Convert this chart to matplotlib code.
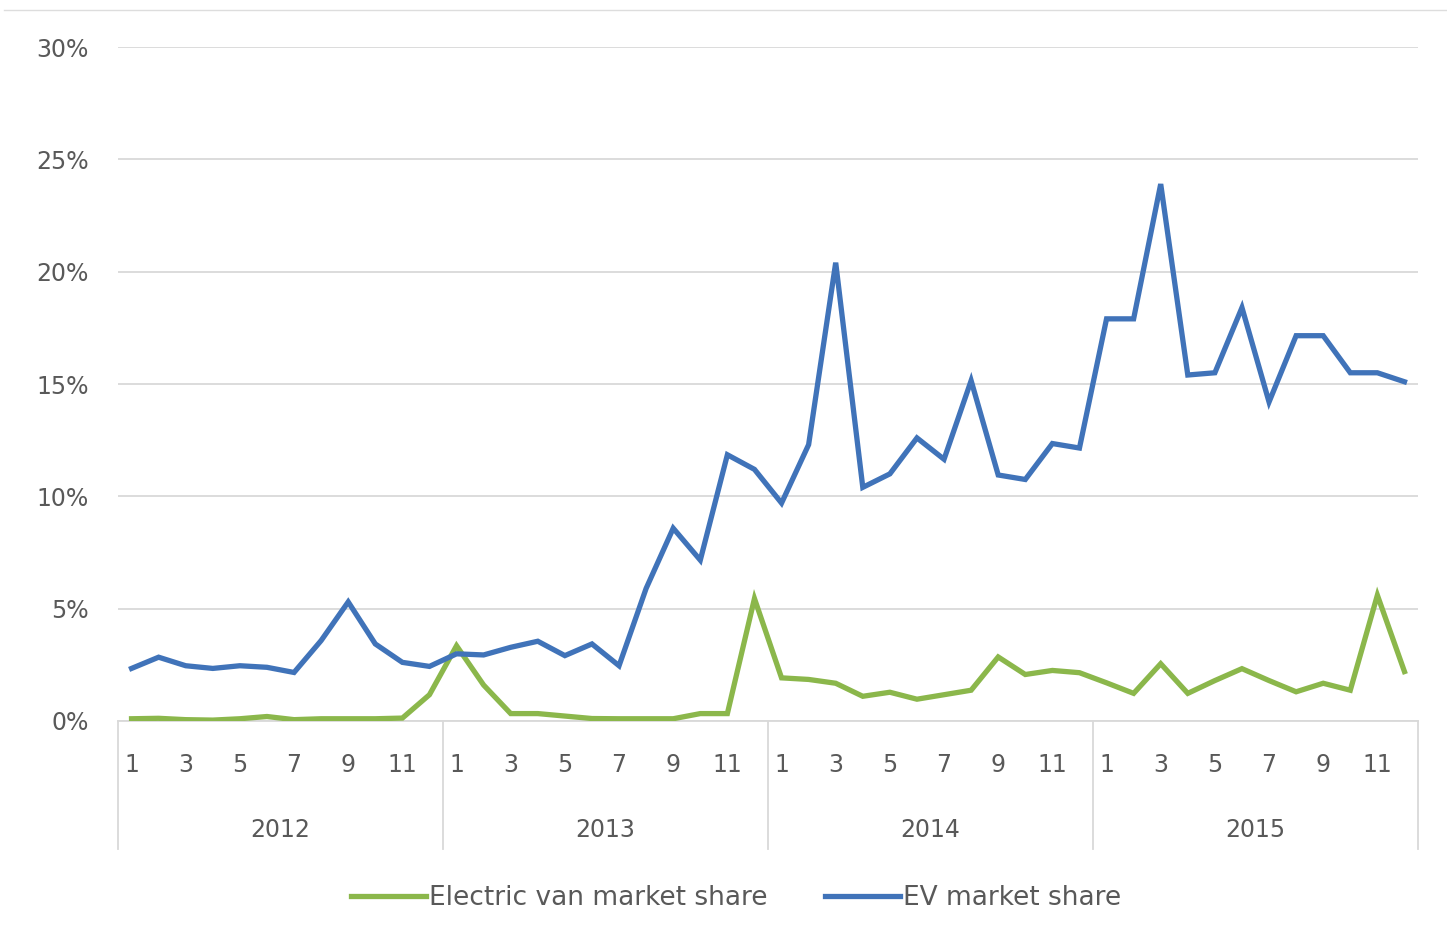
import matplotlib
matplotlib.use("Agg")
import matplotlib.pyplot as plt
from matplotlib.lines import Line2D
from matplotlib.ticker import FuncFormatter
import matplotlib.transforms as mtransforms

plt.rcParams['font.family'] = ['DejaVu Sans']

years = ['2012', '2013', '2014', '2015']
months = list(range(1, 13))

# Monthly market share in percent, Jan 2012 - Dec 2015
ev_share = [
    2.34, 2.84, 2.46, 2.34, 2.46, 2.39, 2.16, 3.58, 5.30, 3.43, 2.61, 2.43,
    2.99, 2.94, 3.28, 3.55, 2.91, 3.43, 2.46, 5.90, 8.58, 7.16, 11.85, 11.20,
    9.70, 12.30, 20.40, 10.40, 11.00, 12.60, 11.65, 15.15, 10.95, 10.75, 12.35, 12.15,
    17.90, 17.90, 23.90, 15.40, 15.50, 18.40, 14.20, 17.15, 17.15, 15.50, 15.50, 15.10,
]
van_share = [
    0.10, 0.12, 0.06, 0.04, 0.10, 0.20, 0.06, 0.10, 0.10, 0.10, 0.13, 1.17,
    3.35, 1.60, 0.33, 0.33, 0.22, 0.11, 0.10, 0.10, 0.10, 0.33, 0.33, 5.45,
    1.92, 1.85, 1.68, 1.10, 1.28, 0.97, 1.17, 1.37, 2.85, 2.07, 2.25, 2.15,
    1.70, 1.23, 2.55, 1.23, 1.80, 2.33, 1.80, 1.30, 1.68, 1.37, 5.60, 2.20,
]

BLUE = '#4073B9'
GREEN = '#8BB74B'
TEXT = '#595959'
GRID = '#D9D9D9'

W, H = 1447, 946
fig = plt.figure(figsize=(W / 100, H / 100), dpi=100)
ax = fig.add_axes([118 / W, 1 - 721 / H, 1300 / W, 674 / H])

x = list(range(len(ev_share)))
ax.plot(x, van_share, color=GREEN, lw=3.8, solid_joinstyle='miter',
        label='Electric van market share', zorder=3)
ax.plot(x, ev_share, color=BLUE, lw=3.8, solid_joinstyle='miter',
        label='EV market share', zorder=4)

ax.set_xlim(-0.5, len(x) - 0.5)
ax.set_ylim(0, 30)
ax.set_yticks(range(0, 31, 5))
ax.yaxis.set_major_formatter(FuncFormatter(lambda v, p: f'{int(v)}%'))
ax.grid(axis='y', color=GRID, lw=1.3)
ax.set_axisbelow(True)

for side in ['top', 'right', 'left']:
    ax.spines[side].set_visible(False)
ax.spines['bottom'].set_color(GRID)
ax.spines['bottom'].set_linewidth(1.3)

# odd month labels within each year
tick_pos = [i for i in x if months[i % 12] % 2 == 1]
ax.set_xticks(tick_pos)
ax.set_xticklabels([str(months[i % 12]) for i in tick_pos])
ax.tick_params(axis='x', length=0, pad=23, labelsize=17, colors=TEXT)
ax.tick_params(axis='y', length=0, pad=21, labelsize=17, colors=TEXT)

# year group labels and dividers below the axis
trans = mtransforms.blended_transform_factory(ax.transData, ax.transAxes)
for k, yr in enumerate(years):
    ax.text(k * 12 + 5.5, -0.162, yr, transform=trans, ha='center', va='center',
            fontsize=17, color=TEXT)
for k in range(len(years) + 1):
    ax.add_line(Line2D([k * 12 - 0.5, k * 12 - 0.5], [0, -0.19], transform=trans,
                       color=GRID, lw=1.3, clip_on=False))

# thin rule across the top of the figure
fig.add_artist(Line2D([4 / W, 1], [1 - 10 / H, 1 - 10 / H], transform=fig.transFigure,
                      color='#DDDDDD', lw=1.0))

leg = fig.legend(loc='center', bbox_to_anchor=(736 / W, 1 - 898 / H), ncol=2,
                 frameon=False, fontsize=19, handlelength=2.85, handletextpad=0.1,
                 columnspacing=2.2)
for t in leg.get_texts():
    t.set_color(TEXT)

fig.savefig('out.png', dpi=100, facecolor='white')
